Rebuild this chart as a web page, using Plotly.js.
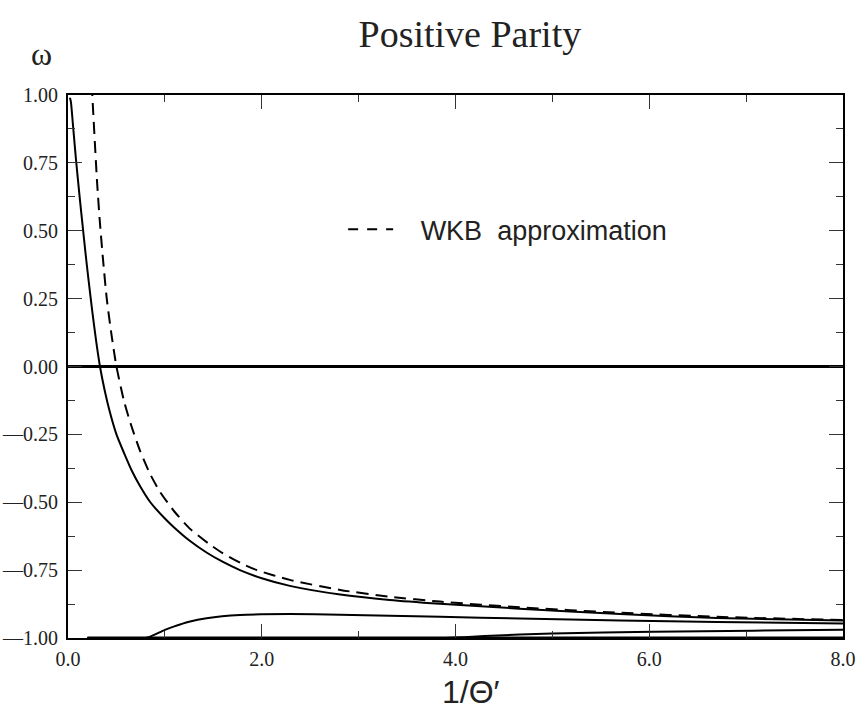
<!DOCTYPE html>
<html>
<head>
<meta charset="utf-8">
<script src="https://cdn.plot.ly/plotly-3.0.1.min.js"></script>
<style>html,body{margin:0;padding:0;background:#fff;}#chart{width:859px;height:711px;}</style>
</head>
<body>
<div id="chart"></div>
<script>
// Solid curve (exact result), upper branch
const mainX = [0.02, 0.03, 0.05, 0.083, 0.12, 0.152, 0.18, 0.21, 0.25, 0.29, 0.33, 0.38, 0.43, 0.50, 0.58, 0.66, 0.743, 0.85, 1.0, 1.087, 1.25, 1.43, 1.6, 1.775, 2.0, 2.29, 2.81, 3.32, 3.84, 4.66, 5.7, 6.7, 8.0];
const mainY = [0.99, 0.975, 0.895, 0.760, 0.625, 0.515, 0.42, 0.325, 0.205, 0.095, 0.0, -0.09, -0.165, -0.25, -0.32, -0.385, -0.44, -0.50, -0.56, -0.59, -0.64, -0.685, -0.72, -0.75, -0.78, -0.808, -0.840, -0.860, -0.874, -0.892, -0.912, -0.926, -0.936];
// WKB approximation (dashed)
const wkbX = [0.22, 0.251, 0.30, 0.33, 0.36, 0.40, 0.45, 0.50, 0.58, 0.657, 0.743, 0.846, 0.95, 1.1, 1.26, 1.45, 1.60, 1.80, 1.95, 2.29, 2.81, 3.32, 3.84, 4.66, 5.7, 6.7, 8.0];
const wkbY = [1.25, 1.0, 0.68, 0.527, 0.40, 0.25, 0.115, 0.0, -0.13, -0.222, -0.31, -0.395, -0.462, -0.535, -0.598, -0.652, -0.688, -0.727, -0.75, -0.786, -0.823, -0.848, -0.866, -0.887, -0.907, -0.922, -0.934];
// Lower branches
const low1X = [0.2, 0.80, 0.85, 1.0, 1.09, 1.25, 1.43, 1.775, 2.29, 2.81, 3.32, 3.84, 4.66, 5.7, 6.7, 8.0];
const low1Y = [-1.0, -1.0, -0.995, -0.97, -0.958, -0.94, -0.927, -0.915, -0.912, -0.914, -0.918, -0.922, -0.928, -0.936, -0.941, -0.947];
const low2X = [0.2, 3.9, 4.3, 5.0, 6.04, 7.07, 8.0];
const low2Y = [-1.0, -1.0, -0.993, -0.983, -0.977, -0.973, -0.970];
const low3X = [0.2, 8.0];
const low3Y = [-1.0, -1.0];

const xTicks = [0, 2, 4, 6, 8];
const xTickText = ['0.0', '2.0', '4.0', '6.0', '8.0'];
const yTicks = [-1, -0.75, -0.5, -0.25, 0, 0.25, 0.5, 0.75, 1];
const yTickText = ['\u20141.00', '\u20140.75', '\u20140.50', '\u20140.25', '0.00', '0.25', '0.50', '0.75', '1.00'];

const serif = 'Liberation Serif, Times New Roman, serif';
const sans = 'Liberation Sans, Arial, sans-serif';

const solid = {color: '#000', width: 2, shape: 'spline', smoothing: 0.6};
const traces = [
  {x: mainX, y: mainY, mode: 'lines', line: solid, showlegend: false, hoverinfo: 'skip'},
  {x: wkbX, y: wkbY, mode: 'lines', line: {color: '#000', width: 2, dash: '12px,7px', shape: 'spline', smoothing: 0.6}, showlegend: false, hoverinfo: 'skip'},
  {x: low1X, y: low1Y, mode: 'lines', line: solid, showlegend: false, hoverinfo: 'skip'},
  {x: low2X, y: low2Y, mode: 'lines', line: solid, showlegend: false, hoverinfo: 'skip'},
  {x: low3X, y: low3Y, mode: 'lines', line: {color: '#000', width: 3}, showlegend: false, hoverinfo: 'skip'},
  {x: [null], y: [null], mode: 'lines', name: '\u00a0\u00a0\u00a0WKB\u00a0\u00a0approximation', line: {color: '#000', width: 2, dash: '10px,9px'}, showlegend: true, hoverinfo: 'skip'}
];

const axisCommon = {
  showgrid: false, showline: true, linecolor: '#000', linewidth: 2, mirror: 'ticks',
  ticks: 'inside', ticklen: 14, tickwidth: 1, tickcolor: '#333',
  tickfont: {family: serif, size: 20, color: '#222'},
  minor: {ticks: 'inside', ticklen: 7, tickwidth: 1, tickcolor: '#333', showgrid: false}
};

const layout = {
  width: 859, height: 711,
  margin: {l: 68, r: 16, t: 95, b: 73},
  paper_bgcolor: '#fff', plot_bgcolor: '#fff',
  title: {text: 'Positive Parity', font: {family: serif, size: 38, color: '#222'}, x: 0.547, xanchor: 'center', y: 0.952, yanchor: 'middle'},
  xaxis: Object.assign({}, axisCommon, {
    range: [0, 8], tickmode: 'array', tickvals: xTicks, ticktext: xTickText,
    minor: Object.assign({}, axisCommon.minor, {dtick: 1, tick0: 0}),
    zeroline: false, ticklabelstandoff: 2
  }),
  yaxis: Object.assign({}, axisCommon, {
    range: [-1, 1], tickmode: 'array', tickvals: yTicks, ticktext: yTickText,
    minor: Object.assign({}, axisCommon.minor, {dtick: 0.125, tick0: 0}),
    zeroline: true, zerolinecolor: '#000', zerolinewidth: 3, ticklabelstandoff: 4
  }),
  showlegend: true,
  legend: {x: 0.355, y: 0.752, xanchor: 'left', yanchor: 'middle', bgcolor: 'rgba(0,0,0,0)',
           font: {family: sans, size: 27, color: '#222'}, itemwidth: 45},
  annotations: [
    {text: '\u03c9', xref: 'paper', yref: 'paper', x: -0.034, y: 1.075, showarrow: false,
     xanchor: 'center', yanchor: 'middle', font: {family: serif, size: 32, color: '#222'}},
    {text: '1/\u0398\u2032', xref: 'paper', yref: 'paper', x: 0.52, y: -0.1, showarrow: false,
     xanchor: 'center', yanchor: 'middle', font: {family: sans, size: 32, color: '#222'}}
  ]
};

Plotly.newPlot('chart', traces, layout, {staticPlot: true, displayModeBar: false});
</script>
</body>
</html>
